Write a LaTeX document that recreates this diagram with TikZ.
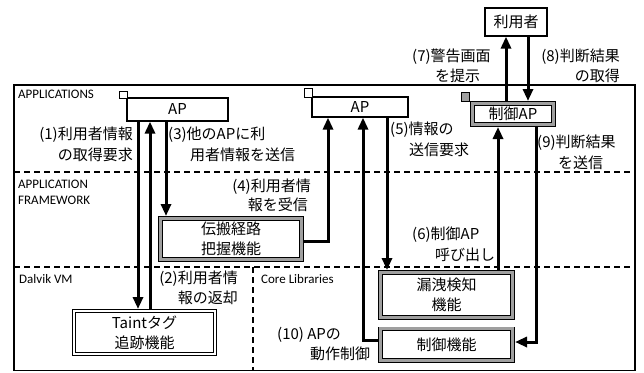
\documentclass[tikz,border=0pt]{standalone}
\usepackage{fontspec}
\setmainfont{Carlito}
\newfontfamily\jp{Noto Sans CJK JP}
\usetikzlibrary{arrows.meta}
\begin{document}
\begin{tikzpicture}[x=1pt,y=-1pt,
  lab/.style={font=\jp\fontsize{15}{18}\selectfont, inner sep=0pt},
  layer/.style={font=\fontsize{13}{15}\selectfont, inner sep=0pt, anchor=west},
  apbox/.style={draw, line width=1.2pt, fill=white, inner sep=0pt, font=\jp\fontsize{15}{18}\selectfont},
  graybox/.style={draw, line width=0.8pt, double=gray!75, double distance=3pt, fill=white,
                  inner sep=0pt, outer sep=2.3pt, font=\jp\fontsize{15}{19.5}\selectfont, align=center},
  whitebox/.style={draw, line width=1pt, double=white, double distance=2pt, fill=white,
                  inner sep=0pt, outer sep=2pt, font=\jp\fontsize{15}{20}\selectfont, align=center},
  sep/.style={line width=2.2pt, dash pattern=on 6pt off 4pt},
  arr/.style={line width=3pt, -{Triangle[width=10pt,length=12pt]}}]
\useasboundingbox (0,0) rectangle (644,372);
% frame and layers
\draw[line width=1.5pt] (14,85) rectangle (635,370.5);
\draw[sep] (14,172) -- (635,172);
\draw[sep] (14,267) -- (635,267);
\draw[sep] (253,267) -- (253,370);
\node[layer] (lapp) at (18,94) {APPLICATIONS};
\node[layer] (lfw1) at (18,184) {APPLICATION};
\node[layer] (lfw2) at (18,200) {FRAMEWORK};
\node[layer] (ldvm) at (19,279) {Dalvik VM};
\node[layer] (lcore) at (261,279) {Core Libraries};
% boxes
\node[apbox, minimum width=101pt, minimum height=23pt] (ap1) at (177.5,109.5) {AP};
\draw[line width=1pt, fill=white] (119,91) rectangle (127,98);
\node[apbox, minimum width=96pt, minimum height=20pt] (ap2) at (360,107) {AP};
\draw[line width=1pt, fill=white] (304,88) rectangle (312,97);
\node[apbox, minimum width=62pt, minimum height=28pt] (user) at (516,22) {利用者};
\node[graybox, minimum width=81.4pt, minimum height=21.4pt] (cap) at (513,114) {制御AP};
\draw[line width=0.8pt, fill=gray!75] (461,92) rectangle (469,101);
\node[graybox, minimum width=141.4pt, minimum height=41.4pt] (prop) at (231,239) {伝搬経路\\把握機能};
\node[whitebox, minimum width=141pt, minimum height=43pt] (taint) at (144.5,332.5) {Taintタグ\\追跡機能};
\node[graybox, minimum width=132.4pt, minimum height=45.4pt] (leak) at (446.5,295) {漏洩検知\\機能};
\node[graybox, minimum width=132.4pt, minimum height=31.4pt] (ctrl) at (446.5,344.5) {制御機能};
% arrows
\draw[arr] (138,0 |- ap1.south) -- (138,0 |- taint.north);
\draw[arr] (150,0 |- taint.north) -- (150,0 |- ap1.south);
\draw[arr] (166,0 |- ap1.south) -- (166,0 |- prop.north);
\draw[arr] (prop.east |- 0,241) -- (328,241) -- (328,0 |- ap2.south);
\draw[arr] (ctrl.west |- 0,340) -- (363,340) -- (363,0 |- ap2.south);
\draw[arr] (387,0 |- ap2.south) -- (387,0 |- leak.north);
\draw[arr] (498,0 |- leak.north) -- (498,0 |- cap.south);
\draw[arr] (506,0 |- cap.north) -- (506,0 |- user.south);
\draw[arr] (528,0 |- user.south) -- (528,0 |- cap.north);
\draw[arr] (536,0 |- cap.south) -- (536,342) -- (ctrl.east |- 0,342);
% labels
\node[lab, anchor=east] (t1a) at (133,135) {(1)利用者情報};
\node[lab, anchor=east] (t1b) at (133,155) {の取得要求};
\node[lab, anchor=west] (t3a) at (168,135) {(3)他のAPに利};
\node[lab, anchor=west] (t3b) at (190,155) {用者情報を送信};
\node[lab, anchor=east] (t4a) at (311,187) {(4)利用者情};
\node[lab, anchor=east] (t4b) at (308,205) {報を受信};
\node[lab, anchor=east] (t2a) at (238,279) {(2)利用者情};
\node[lab, anchor=east] (t2b) at (238,298) {報の返却};
\node[lab, anchor=west] (t5a) at (390,130) {(5)情報の};
\node[lab, anchor=west] (t5b) at (409,150) {送信要求};
\node[lab, anchor=west] (t7a) at (412,57) {(7)警告画面};
\node[lab, anchor=west] (t7b) at (435,76) {を提示};
\node[lab, anchor=east] (t8a) at (620,57) {(8)判断結果};
\node[lab, anchor=east] (t8b) at (620,76) {の取得};
\node[lab, anchor=west] (t9a) at (537,143) {(9)判断結果};
\node[lab, anchor=west] (t9b) at (558,163) {を送信};
\node[lab, anchor=west] (t6a) at (412,235) {(6)制御AP};
\node[lab, anchor=west] (t6b) at (435,255) {呼び出し};
\node[lab, anchor=west] (t10a) at (277,335) {(10) APの};
\node[lab, anchor=west] (t10b) at (310,354) {動作制御};
\end{tikzpicture}
\end{document}
